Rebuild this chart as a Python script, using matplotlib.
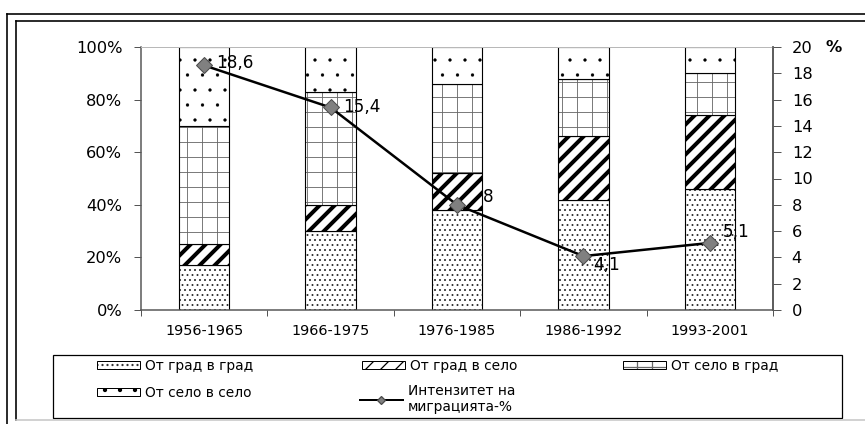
import matplotlib

matplotlib.use("Agg")
import matplotlib.pyplot as plt
from matplotlib.lines import Line2D
from matplotlib.patches import Patch, Rectangle
from matplotlib.legend_handler import HandlerTuple
import numpy as np

# ---- data (shares of migration flows, %, and migration intensity, %) ----
periods = ["1956-1965", "1966-1975", "1976-1985", "1986-1992", "1993-2001"]
city_city = [17, 30, 38, 42, 46]
city_village = [8, 10, 14, 24, 28]
village_city = [45, 43, 34, 22, 16]
village_village = [30, 17, 14, 12, 10]
intensity = [18.6, 15.4, 8.0, 4.1, 5.1]
intensity_labels = ["18,6", "15,4", "8", "4,1", "5,1"]

series_names = ["От град в град", "От град в село", "От село в град", "От село в село"]
line_name = "Интензитет на\nмиграцията-%"

W, H, DPI = 865, 424, 90

# hatch, hatch colour, hatch linewidth per series
STYLES = [
    ("...", "#333333", 0.8),
    ("//", "black", 3.2),
    ("+", "#6a6a6a", 0.7),
    (".", "black", 0.2),
]


def fx(px):
    return px / W


def fy(py):
    return 1 - py / H


def set_hlw(patch, lw):
    if hasattr(patch, "set_hatch_linewidth"):
        patch.set_hatch_linewidth(lw)


def main():
    plt.rcParams["font.family"] = ["DejaVu Sans"]
    fig = plt.figure(figsize=(W / DPI, H / DPI), dpi=DPI)
    ax = fig.add_axes([fx(141), fy(310), fx(773) - fx(141), fy(47) - fy(310)])

    x = np.arange(len(periods))
    bottom = np.zeros(len(periods))
    handles = []
    for vals, (hatch, hcol, hlw) in zip(
            [city_city, city_village, village_city, village_village], STYLES):
        with plt.rc_context({"hatch.linewidth": hlw}):
            fill = ax.bar(x, vals, 0.4, bottom=bottom, color="white",
                          edgecolor=hcol, hatch=hatch, linewidth=0)
            for p in fill:
                set_hlw(p, hlw)
            ax.bar(x, vals, 0.4, bottom=bottom, fill=False,
                   edgecolor="black", linewidth=0.9)
            hp = Patch(facecolor="white", edgecolor=hcol, hatch=hatch, linewidth=0)
            set_hlw(hp, hlw)
        he = Patch(fill=False, edgecolor="black", linewidth=0.8)
        handles.append((hp, he))
        bottom += np.array(vals)

    ax.set_xlim(-0.5, len(periods) - 0.5)
    ax.set_ylim(0, 100)
    ax.set_yticks(np.arange(0, 101, 20))
    ax.set_yticklabels([f"{v}%" for v in range(0, 101, 20)], fontsize=13)
    ax.set_xticks(np.arange(-0.5, len(periods), 1.0))
    ax.set_xticklabels([])
    ax.set_xticks(x, minor=True)
    ax.set_xticklabels(periods, minor=True, fontsize=11.5)
    ax.tick_params(axis="x", which="minor", length=0, pad=11)
    ax.tick_params(axis="x", which="major", length=5, color="#555555", direction="out")
    ax.tick_params(axis="y", length=6, color="#555555", pad=9, direction="out")
    for side in ["left", "bottom", "right"]:
        ax.spines[side].set_color("#555555")
        ax.spines[side].set_linewidth(1.2)
    ax.spines["top"].set_color("#b8b8b8")

    ax2 = ax.twinx()
    ax2.plot(x, intensity, color="black", lw=2.0, marker="D", ms=9,
             mfc="#808080", mec="#4a4a4a", mew=0.8, zorder=5)
    ax2.set_ylim(0, 20)
    ax2.set_yticks(np.arange(0, 21, 2))
    ax2.tick_params(axis="y", length=6, color="#555555", pad=9, labelsize=13)
    ax2.spines["right"].set_color("#555555")
    ax2.spines["right"].set_linewidth(1.2)
    ax2.spines["top"].set_visible(False)
    ax2.spines["left"].set_visible(False)
    ax2.spines["bottom"].set_visible(False)
    ax2.annotate("%", xy=(1, 20), xycoords=("axes fraction", "data"),
                 xytext=(52, 0), textcoords="offset pixels", ha="left",
                 va="center", fontsize=13, fontweight="bold")

    offsets = [(12, 2), (13, 0), (26, 8), (10, -9), (13, 11)]
    for xi, yi, lab, off in zip(x, intensity, intensity_labels, offsets):
        ax2.annotate(lab, xy=(xi, yi), xytext=off, textcoords="offset pixels",
                     ha="left", va="center", fontsize=13.5)

    # ---- legend (boxed, Excel-like layout) ----
    fig.add_artist(Rectangle((fx(53), fy(418)), fx(842) - fx(53), fy(355) - fy(418),
                             transform=fig.transFigure, fill=False,
                             edgecolor="black", linewidth=1.0))
    line_handle = Line2D([], [], color="black", lw=1.6, marker="D", ms=5,
                         mfc="#808080", mec="#4a4a4a")
    entries = [
        (handles[0], series_names[0], 97, 366),
        (handles[1], series_names[1], 362, 366),
        (handles[2], series_names[2], 623, 366),
        (handles[3], series_names[3], 97, 393),
        (line_handle, line_name, 360, 399),
    ]
    for h, lab, px, py in entries:
        fig.legend([h], [lab], loc="center left", bbox_to_anchor=(fx(px), fy(py)),
                   frameon=False, borderpad=0, borderaxespad=0, fontsize=11,
                   handlelength=3.1, handleheight=0.55, handletextpad=0.4,
                   numpoints=1, handler_map={tuple: HandlerTuple(ndivide=1)})

    # double outer frame
    for (x0, y0, x1, y1, c) in [(7, 14, W, 14, "black"), (7, 14, 7, H, "black"),
                                (16, 21, W, 21, "black"), (16, 21, 16, 420, "black"),
                                (16, 420, W, 420, "#c8c8c8")]:
        fig.add_artist(Line2D([fx(x0), fx(x1)], [fy(y0), fy(y1)],
                              transform=fig.transFigure, color=c, lw=1.3))

    fig.savefig("out.png", dpi=DPI)


if __name__ == "__main__":
    main()
